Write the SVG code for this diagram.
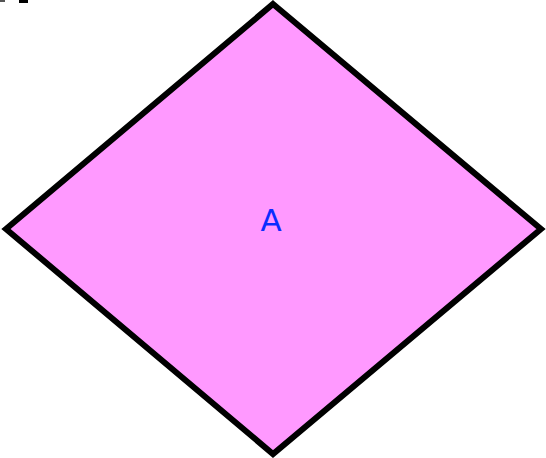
<svg xmlns="http://www.w3.org/2000/svg" width="546" height="458" viewBox="0 0 546 458">
<style>
.shape{fill:#ff99ff;stroke:#000;stroke-width:6;stroke-linejoin:miter}
.lbl{font-family:"DejaVu Sans",sans-serif;font-size:31px;fill:#0a2cff;text-anchor:middle}
</style>
<rect x="0" y="0" width="5" height="2" fill="#555"/>
<rect x="19" y="0" width="9" height="3" fill="#000"/>
<g id="A">
<polygon class="shape" points="273,4 541,229 273,454 6,229"/>
<text class="lbl" x="271" y="231">A</text>
</g>
<g id="connectors"/>
</svg>
